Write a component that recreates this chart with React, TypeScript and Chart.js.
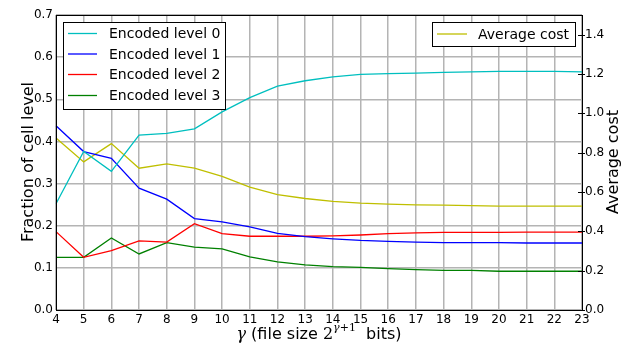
import { useEffect, useRef } from 'react';
import { Chart, registerables } from 'chart.js';

Chart.register(...registerables);

const gammas = ['4', '5', '6', '7', '8', '9', '10', '11', '12', '13', '14', '15', '16', '17', '18', '19', '20', '21', '22', '23'];
const level0 = [0.252, 0.376, 0.329, 0.415, 0.419, 0.430, 0.470, 0.504, 0.531, 0.544, 0.553, 0.559, 0.561, 0.562, 0.564, 0.565, 0.566, 0.566, 0.566, 0.565];
const level1 = [0.437, 0.376, 0.360, 0.289, 0.263, 0.217, 0.209, 0.197, 0.182, 0.174, 0.169, 0.165, 0.163, 0.161, 0.160, 0.160, 0.160, 0.159, 0.159, 0.159];
const level2 = [0.186, 0.125, 0.141, 0.164, 0.161, 0.205, 0.181, 0.175, 0.175, 0.175, 0.176, 0.178, 0.181, 0.183, 0.184, 0.184, 0.184, 0.185, 0.185, 0.185];
const level3 = [0.125, 0.125, 0.171, 0.133, 0.160, 0.149, 0.145, 0.126, 0.114, 0.107, 0.103, 0.101, 0.098, 0.096, 0.094, 0.094, 0.092, 0.092, 0.092, 0.092];
const avgCost = [0.875, 0.753, 0.846, 0.721, 0.743, 0.721, 0.679, 0.625, 0.587, 0.567, 0.552, 0.543, 0.538, 0.535, 0.533, 0.531, 0.528, 0.528, 0.528, 0.528];

const leftTitle = 'Fraction of cell level';
const rightTitle = 'Average cost';

const SANS = 'DejaVu Sans';
const GRID = '#b4b4b4';

const overlay = {
  id: 'overlay',
  afterDraw(chart: any) {
    const { ctx, chartArea: a } = chart;
    const ds = chart.data.datasets;
    ctx.save();

    // right axis inward ticks
    const y1 = chart.scales.y1;
    ctx.strokeStyle = '#000';
    ctx.lineWidth = 1;
    y1.ticks.forEach((t: any) => {
      const py = Math.round(y1.getPixelForValue(t.value)) + 0.5;
      ctx.beginPath();
      ctx.moveTo(a.right - 4, py);
      ctx.lineTo(a.right + 3, py);
      ctx.stroke();
    });

    // frame
    ctx.strokeStyle = '#000';
    ctx.lineWidth = 1;
    ctx.strokeRect(Math.round(a.left) + 0.5, Math.round(a.top) + 0.5, Math.round(a.right - a.left), Math.round(a.bottom - a.top));

    // legends
    const drawLegend = (x: number, y: number, w: number, h: number, idx: number[], ys: number[], lx0: number, lx1: number, tx: number) => {
      ctx.fillStyle = '#fff';
      ctx.fillRect(x, y, w, h);
      ctx.strokeStyle = '#000';
      ctx.lineWidth = 1;
      ctx.strokeRect(x + 0.5, y + 0.5, w, h);
      ctx.font = `14px ${SANS}`;
      ctx.textBaseline = 'middle';
      ctx.textAlign = 'left';
      idx.forEach((di, k) => {
        const d = ds[di];
        ctx.strokeStyle = d.borderColor;
        ctx.lineWidth = 1.3;
        ctx.beginPath();
        ctx.moveTo(lx0, ys[k]);
        ctx.lineTo(lx1, ys[k]);
        ctx.stroke();
        ctx.fillStyle = '#000';
        ctx.fillText(d.label, tx, ys[k] + 1);
      });
    };
    drawLegend(63, 22, 162, 87, [0, 1, 2, 3], [33.5, 54, 74.5, 95.5], 68, 97, 109);
    drawLegend(432, 22, 143, 24, [4], [34], 437, 467, 478);

    // axis titles
    ctx.fillStyle = '#000';
    ctx.font = `16px ${SANS}`;
    ctx.textAlign = 'center';
    ctx.textBaseline = 'alphabetic';
    ctx.save();
    ctx.translate(33, 162);
    ctx.rotate(-Math.PI / 2);
    ctx.fillText(leftTitle, 0, 0);
    ctx.restore();
    ctx.save();
    ctx.translate(618, 162);
    ctx.rotate(-Math.PI / 2);
    ctx.fillText(rightTitle, 0, 0);
    ctx.restore();

    // x title with superscript
    const parts = [
      { t: 'γ', f: 'italic 16px DejaVu Serif', dy: 0 },
      { t: ' (file size ', f: `16px ${SANS}`, dy: 0 },
      { t: '2', f: '16px DejaVu Serif', dy: 0 },
      { t: 'γ', f: 'italic 11px DejaVu Serif', dy: -8 },
      { t: '+1', f: '11px DejaVu Serif', dy: -8 },
      { t: '  bits)', f: `16px ${SANS}`, dy: 0 },
    ];
    let total = 0;
    parts.forEach((p) => {
      ctx.font = p.f;
      total += ctx.measureText(p.t).width;
    });
    let cx = (a.left + a.right) / 2 - total / 2;
    ctx.textAlign = 'left';
    parts.forEach((p) => {
      ctx.font = p.f;
      ctx.fillText(p.t, cx, 339 + p.dy);
      cx += ctx.measureText(p.t).width;
    });

    ctx.restore();
  },
};

export default function App() {
  const ref = useRef<HTMLCanvasElement>(null);
  useEffect(() => {
    if (!ref.current) return;
    Chart.defaults.font.family = SANS;
    const mk = (label: string, data: number[], color: string, axis = 'y') => ({
      label,
      data,
      borderColor: color,
      backgroundColor: color,
      borderWidth: 1.3,
      pointRadius: 0,
      tension: 0,
      fill: false,
      yAxisID: axis,
    });
    const chart = new Chart(ref.current, {
      type: 'line',
      data: {
        labels: gammas,
        datasets: [
          mk('Encoded level 0', level0, '#00BFBF'),
          mk('Encoded level 1', level1, '#0000FF'),
          mk('Encoded level 2', level2, '#FF0000'),
          mk('Encoded level 3', level3, '#008000'),
          mk('Average cost', avgCost, '#BFBF00', 'y1'),
        ],
      },
      options: {
        responsive: false,
        animation: false,
        layout: { padding: { top: 15, left: 0, right: 0, bottom: 0 } },
        plugins: { legend: { display: false }, tooltip: { enabled: false }, title: { display: false } },
        scales: {
          x: {
            type: 'category',
            offset: false,
            grid: { color: GRID, lineWidth: 1.5, drawTicks: false },
            border: { display: false },
            ticks: { color: '#000', font: { size: 12 }, padding: 3, maxRotation: 0, autoSkip: false },
            afterFit: (s: any) => { s.height = 36; },
          },
          y: {
            position: 'left',
            min: 0,
            max: 0.7,
            grid: { color: GRID, lineWidth: 1.5, drawTicks: false },
            border: { display: false },
            ticks: { stepSize: 0.1, color: '#000', font: { size: 12 }, padding: 3, callback: (v: any) => Number(v).toFixed(1) },
            afterFit: (s: any) => { s.width = 56; },
          },
          y1: {
            position: 'right',
            min: 0,
            max: 1.5,
            grid: { display: false, drawTicks: false },
            border: { display: false },
            ticks: { stepSize: 0.2, color: '#000', font: { size: 12 }, padding: 3, callback: (v: any) => Number(v).toFixed(1) },
            afterBuildTicks: (s: any) => { s.ticks = s.ticks.filter((t: any) => t.value < 1.45); },
            afterFit: (s: any) => { s.width = 54; },
          },
        },
      } as any,
      plugins: [overlay],
    });
    return () => chart.destroy();
  }, []);
  return (
    <div style={{ position: 'absolute', left: 0, top: 0, width: 636, height: 346, background: '#fff' }}>
      <canvas ref={ref} width={636} height={346} style={{ display: 'block' }} />
    </div>
  );
}
